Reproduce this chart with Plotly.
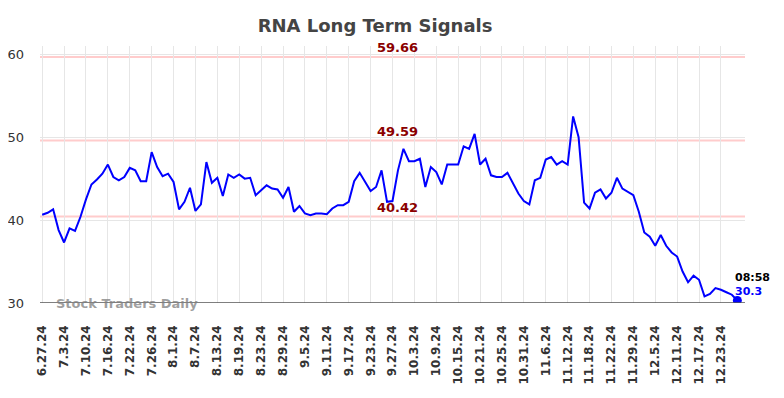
import plotly.graph_objects as go

dates = ["6.27.24","6.28.24","7.1.24","7.2.24","7.3.24","7.5.24","7.8.24","7.9.24","7.10.24","7.11.24",
         "7.12.24","7.15.24","7.16.24","7.17.24","7.18.24","7.19.24","7.22.24","7.23.24","7.24.24","7.25.24",
         "7.26.24","7.29.24","7.30.24","7.31.24","8.1.24","8.2.24","8.5.24","8.6.24","8.7.24","8.8.24",
         "8.9.24","8.12.24","8.13.24","8.14.24","8.15.24","8.16.24","8.19.24","8.20.24","8.21.24","8.22.24",
         "8.23.24","8.26.24","8.27.24","8.28.24","8.29.24","8.30.24","9.3.24","9.4.24","9.5.24","9.6.24",
         "9.9.24","9.10.24","9.11.24","9.12.24","9.13.24","9.16.24","9.17.24","9.18.24","9.19.24","9.20.24",
         "9.23.24","9.24.24","9.25.24","9.26.24","9.27.24","9.30.24","10.1.24","10.2.24","10.3.24","10.4.24",
         "10.7.24","10.8.24","10.9.24","10.10.24","10.11.24","10.14.24","10.15.24","10.16.24","10.17.24","10.18.24",
         "10.21.24","10.22.24","10.23.24","10.24.24","10.25.24","10.28.24","10.29.24","10.30.24","10.31.24","11.1.24",
         "11.4.24","11.5.24","11.6.24","11.7.24","11.8.24","11.11.24","11.12.24","11.13.24","11.14.24","11.15.24",
         "11.18.24","11.19.24","11.20.24","11.21.24","11.22.24","11.25.24","11.26.24","11.27.24","11.29.24","12.2.24",
         "12.3.24","12.4.24","12.5.24","12.6.24","12.9.24","12.10.24","12.11.24","12.12.24","12.13.24","12.16.24",
         "12.17.24","12.18.24","12.19.24","12.20.24","12.23.24","12.24.24","12.26.24","12.27.24"]

values = [40.64, 40.88, 41.3, 38.8, 37.3, 39.0, 38.7, 40.4, 42.5, 44.3,
          44.9, 45.6, 46.7, 45.2, 44.8, 45.2, 46.3, 46.0, 44.7, 44.7,
          48.2, 46.4, 45.3, 45.6, 44.6, 41.3, 42.2, 43.9, 41.1, 41.9,
          47.0, 44.5, 45.1, 42.9, 45.5, 45.1, 45.5, 45.0, 45.1, 43.0,
          43.6, 44.2, 43.8, 43.7, 42.7, 44.0, 41.0, 41.7, 40.8, 40.6,
          40.8, 40.8, 40.7, 41.4, 41.8, 41.8, 42.2, 44.7, 45.7, 44.6,
          43.5, 44.0, 46.0, 42.2, 42.3, 46.0, 48.6, 47.1, 47.1, 47.4,
          44.0, 46.4, 45.8, 44.3, 46.7, 46.7, 46.7, 48.9, 48.6, 50.4,
          46.7, 47.4, 45.4, 45.2, 45.2, 45.7, 44.5, 43.2, 42.3, 41.9,
          44.8, 45.1, 47.3, 47.6, 46.7, 47.1, 46.7, 52.5, 50.0, 42.1,
          41.4, 43.3, 43.7, 42.6, 43.3, 45.1, 43.8, 43.4, 43.0, 41.0,
          38.5, 38.0, 36.9, 38.2, 36.9, 36.1, 35.6, 33.8, 32.5, 33.3,
          32.8, 30.8, 31.1, 31.8, 31.6, 31.3, 31.0, 30.3]

tick_labels = ["6.27.24","7.3.24","7.10.24","7.16.24","7.22.24","7.26.24","8.1.24","8.7.24",
               "8.13.24","8.19.24","8.23.24","8.29.24","9.5.24","9.11.24","9.17.24","9.23.24",
               "9.27.24","10.3.24","10.9.24","10.15.24","10.21.24","10.25.24","10.31.24","11.6.24",
               "11.12.24","11.18.24","11.22.24","11.29.24","12.5.24","12.11.24","12.17.24","12.23.24"]

levels = [59.66, 49.59, 40.42]
last_time = "08:58"

fig = go.Figure()

for lv in levels:
    fig.add_shape(type="line", xref="paper", x0=0, x1=1, yref="y", y0=lv, y1=lv,
                  line=dict(color="#ffcccc", width=2), layer="below")

fig.add_trace(go.Scatter(x=dates, y=values, mode="lines",
                         line=dict(color="#0000ff", width=2), hoverinfo="skip"))
fig.add_trace(go.Scatter(x=[dates[-1]], y=[values[-1]], mode="markers",
                         marker=dict(color="#0000ff", size=9), hoverinfo="skip"))

mid = dates[65]
for lv in levels:
    fig.add_annotation(x=mid, y=lv, text=f"<b>{lv:.2f}</b>", showarrow=False,
                       yanchor="bottom", yshift=0,
                       font=dict(color="#8b0000", size=13, family="DejaVu Sans"))

fig.add_annotation(x=dates[-1], y=values[-1], text=f"<b>{last_time}</b>", showarrow=False,
                   xanchor="left", yanchor="bottom", xshift=-4, yshift=15,
                   font=dict(color="#000000", size=11, family="DejaVu Sans"))
fig.add_annotation(x=dates[-1], y=values[-1], text=f"<b>{values[-1]}</b>", showarrow=False,
                   xanchor="left", yanchor="bottom", xshift=-4, yshift=1,
                   font=dict(color="#0000ff", size=11, family="DejaVu Sans"))

fig.add_annotation(xref="paper", yref="y", x=0.02, y=30, text="<b>Stock Traders Daily</b>",
                   showarrow=False, xanchor="left", yanchor="middle",
                   font=dict(color="rgba(128,128,128,0.75)", size=13, family="DejaVu Sans"))

fig.update_layout(
    width=776, height=390,
    margin=dict(l=32, r=39, t=38, b=95),
    paper_bgcolor="white", plot_bgcolor="white",
    showlegend=False,
    title=dict(text="<b>RNA Long Term Signals</b>", x=0.473, xanchor="center", y=0.954, yanchor="middle",
               font=dict(size=18, color="#444444", family="DejaVu Sans")),
    xaxis=dict(type="category", categoryorder="array", categoryarray=dates,
               range=[-0.4, 128.4], tickmode="array", tickvals=tick_labels,
               ticktext=[f"<b>{t}</b>" for t in tick_labels], tickangle=-90,
               showgrid=True, gridcolor="#e6e6e6", gridwidth=1, automargin=False,
               ticklabelstandoff=19,
               tickfont=dict(size=12, color="#333333", family="DejaVu Sans"),
               showline=False, zeroline=False, ticks=""),
    yaxis=dict(range=[30, 61], tickvals=[30, 40, 50, 60], showgrid=True,
               gridcolor="#e6e6e6", gridwidth=1, zeroline=False, automargin=False,
               ticklabelstandoff=15,
               tickfont=dict(size=13, color="#333333", family="DejaVu Sans"),
               ticks="", showline=False),
)

fig.add_shape(type="line", xref="paper", x0=0, x1=1, yref="y", y0=30, y1=30,
              line=dict(color="#555555", width=1.5))

fig.write_html("out.html")
